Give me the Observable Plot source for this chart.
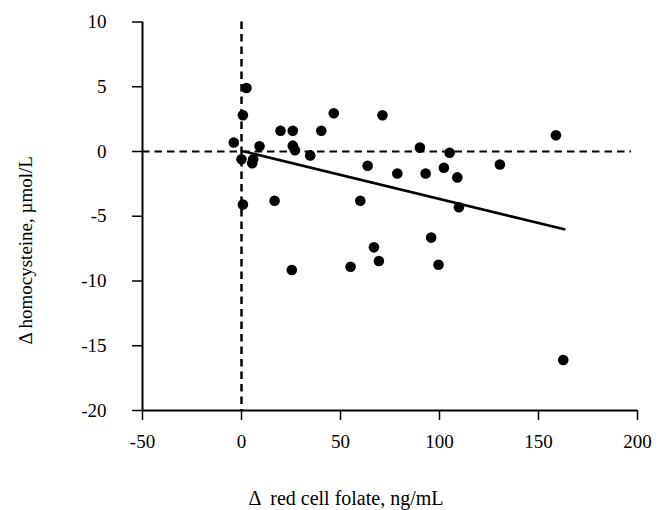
<!DOCTYPE html>
<html>
<head>
<meta charset="utf-8">
<script src="https://cdn.jsdelivr.net/npm/d3@7"></script>
<script src="https://cdn.jsdelivr.net/npm/@observablehq/plot@0.6"></script>
<style>
  body { margin: 0; background: white; }
</style>
</head>
<body>
<div id="chart"></div>
<script>
// Data
const folateChange = [2.5, 0.7, -3.9, 0, 5.9, 5.4, 9.1, 19.7, 25.9, 25.9, 27, 34.7, 40.3, 46.6, 71.2, 63.7, 78.7, 90.1, 105.1, 93, 102.2, 109, 130.5, 158.8, 0.7, 16.7, 60, 66.9, 69.4, 55.1, 25.4, 109.8, 95.8, 99.5, 162.5];
const homocysteineChange = [4.9, 2.8, 0.7, -0.6, -0.6, -0.9, 0.4, 1.6, 1.6, 0.45, 0.1, -0.3, 1.6, 2.95, 2.8, -1.1, -1.7, 0.3, -0.1, -1.7, -1.25, -2.0, -1.0, 1.25, -4.1, -3.8, -3.8, -7.4, -8.45, -8.9, -9.15, -4.3, -6.65, -8.75, -16.1];
const fitX = [1.5, 163];
const fitY = [0, -6.0];
const zeroLineX = [-50, 197];
const xTicks = [-50, 0, 50, 100, 150, 200];
const yTicks = [-20, -15, -10, -5, 0, 5, 10];
const xTitle = "\u0394  red cell folate, ng/mL";
const yTitle = "\u0394 homocysteine, \u00b5mol/L";

const points = folateChange.map((x, i) => ({x, y: homocysteineChange[i]}));
const fit = fitX.map((x, i) => ({x, y: fitY[i]}));

const chart = Plot.plot({
  width: 660,
  height: 510,
  marginLeft: 142,
  marginRight: 23,
  marginTop: 21.5,
  marginBottom: 100,
  style: {fontFamily: "'Liberation Serif', 'Times New Roman', serif", fontSize: "19px", background: "white", color: "black"},
  x: {domain: [-50, 200]},
  y: {domain: [-20, 10]},
  marks: [
    Plot.ruleX([0], {stroke: "black", strokeWidth: 2.5, strokeDasharray: "7.5,5"}),
    Plot.ruleY([0], {x1: zeroLineX[0], x2: zeroLineX[1], stroke: "black", strokeWidth: 2, strokeDasharray: "7.5,5"}),
    Plot.axisX({ticks: xTicks, tickSize: 10, tickPadding: 14, label: null, fontSize: 19, strokeWidth: 1.5, tickFormat: d => String(d)}),
    Plot.axisY({ticks: yTicks, tickSize: 10, tickPadding: 26, label: null, fontSize: 19, strokeWidth: 1.5, tickFormat: d => String(d)}),
    Plot.ruleX([-50], {stroke: "black", strokeWidth: 2}),
    Plot.ruleY([-20], {stroke: "black", strokeWidth: 2}),
    Plot.line(fit, {x: "x", y: "y", stroke: "black", strokeWidth: 2.7}),
    Plot.dot(points, {x: "x", y: "y", r: 5.3, fill: "black", stroke: "none"}),
    Plot.text([xTitle], {frameAnchor: "bottom", dx: -44, dy: 88, fontSize: 20, textAnchor: "middle", lineAnchor: "middle"}),
    Plot.text([yTitle], {frameAnchor: "left", dx: -117, dy: 34, rotate: -90, fontSize: 19, textAnchor: "middle", lineAnchor: "middle"})
  ]
});
document.getElementById("chart").appendChild(chart);
</script>
</body>
</html>
